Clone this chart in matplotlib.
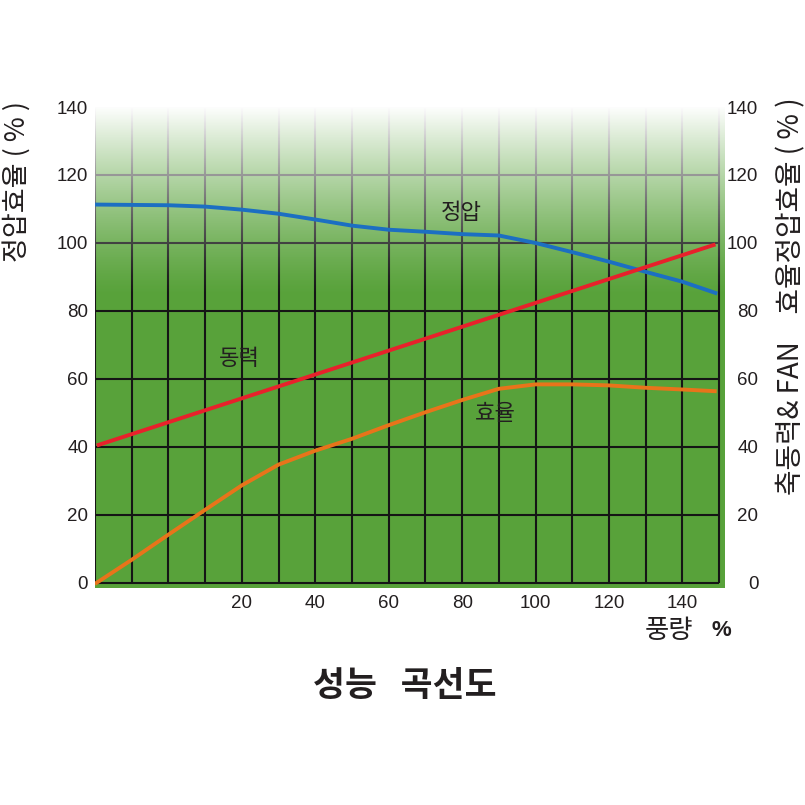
import matplotlib
matplotlib.use('Agg')
import matplotlib.pyplot as plt
import numpy as np

# ---- data ----
pressure_x = [-20, -10, 0, 10, 20, 30, 40, 50, 60, 70, 80, 90, 100, 110, 120, 130, 140, 149]
static_pressure = [111.3, 111.2, 111.1, 110.7, 109.8, 108.6, 106.9, 105.1, 103.9, 103.3,
                   102.6, 102.2, 100.0, 97.3, 94.5, 91.5, 88.6, 85.3]
power_x = [-19, 148.5]
shaft_power = [40.6, 99.4]
eff_x = [-19.6, -10, 0, 10, 20, 30, 40, 50, 60, 70, 80, 90, 100, 110, 120, 130, 140, 148.8]
efficiency = [0.0, 6.8, 14.2, 21.5, 28.7, 34.8, 38.9, 42.4, 46.4, 50.2, 53.8, 57.1,
              58.4, 58.4, 58.1, 57.4, 56.9, 56.4]
xtick_vals = [20, 40, 60, 80, 100, 120, 140]
xtick_labels = ['20', '40', '60', '80', '100', '120', '140']
ytick_vals = [0, 20, 40, 60, 80, 100, 120, 140]
ytick_labels = ['0', '20', '40', '60', '80', '100', '120', '140']

GREEN = '#58a23a'
BLUE = '#1c6fc2'
RED = '#e8212b'
ORANGE = '#e8741a'
TXT = '#231f20'
KFONT = ['Noto Sans CJK KR', 'DejaVu Sans']
NFONT = ['Liberation Sans', 'DejaVu Sans']

W = 805
fig = plt.figure(figsize=(8.05, 8.05), dpi=100)
ax = fig.add_axes([95 / W, 1 - 588 / W, 630 / W, 481 / W])
ax.set_facecolor(GREEN)
for s in ax.spines.values():
    s.set_visible(False)

# grid
ax.vlines(np.arange(-20, 151, 10), 0, 140, colors='#151515', lw=1.5, zorder=1)
ax.hlines(np.arange(0, 141, 20), -20, 150, colors='#151515', lw=1.5, zorder=1)

# white fade at top
yy = np.linspace(-1.5, 140, 400)
alpha = np.clip((yy - 84) / 56, 0, 1) ** 1.3
img = np.ones((400, 1, 4))
img[:, 0, 3] = alpha
ax.imshow(img, extent=(-20, 151.6, -1.5, 140), origin='lower', aspect='auto',
          interpolation='bilinear', zorder=2)

# curves
ax.plot(pressure_x, static_pressure, color=BLUE, lw=2.8, zorder=3, solid_joinstyle='round')
ax.plot(power_x, shaft_power, color=RED, lw=2.8, zorder=3)
ax.plot(eff_x, efficiency, color=ORANGE, lw=2.8, zorder=3, solid_joinstyle='round')

ax.text(79.8, 108.9, '정압', family=KFONT, fontsize=16, color=TXT, ha='center', va='center', zorder=4)
ax.text(19.3, 65.9, '동력', family=KFONT, fontsize=16, color=TXT, ha='center', va='center', zorder=4)
ax.text(89.1, 49.7, '효율', family=KFONT, fontsize=16, color=TXT, ha='center', va='center', zorder=4)

ax.set_xlim(-20, 151.6)
ax.set_ylim(-1.5, 140)
ax.set_xticks(xtick_vals, xtick_labels)
ax.set_yticks(ytick_vals, ytick_labels)
ax.tick_params(axis='both', length=0, labelsize=13.5, labelcolor=TXT)
ax.tick_params(axis='x', pad=5)
ax.tick_params(axis='y', pad=5)
for lb in ax.get_xticklabels() + ax.get_yticklabels():
    lb.set_family(NFONT)

ax2 = ax.twinx()
ax2.set_ylim(-1.5, 140)
ax2.set_yticks(ytick_vals, ytick_labels)
ax2.tick_params(axis='y', length=0, pad=24, labelsize=13.5, labelcolor=TXT)
for s in ax2.spines.values():
    s.set_visible(False)
for lb in ax2.get_yticklabels():
    lb.set_ha('right')
    lb.set_family(NFONT)

# axis titles
fig.text(17 / W, 1 - 181 / W, '정압효율 ( % )', rotation=90, family=KFONT, fontsize=19.5,
         color=TXT, ha='center', va='center')
fig.text(791 / W, 1 - 296 / W, '축동력& FAN\u3000효율정압효율 ( % )', rotation=90, family=KFONT,
         fontsize=20, color=TXT, ha='center', va='center')
fig.text(669 / W, 1 - 630 / W, '풍량', family=KFONT, fontsize=19, color=TXT,
         ha='center', va='center')
fig.text(721 / W, 1 - 631 / W, '%', family=NFONT, fontsize=16, fontweight='bold',
         color=TXT, ha='center', va='center')
fig.text(405 / W, 1 - 685 / W, '성능   곡선도', family=KFONT, fontsize=25,
         fontweight='bold', color=TXT, ha='center', va='center')

fig.savefig('out.png', dpi=100, facecolor='white')
